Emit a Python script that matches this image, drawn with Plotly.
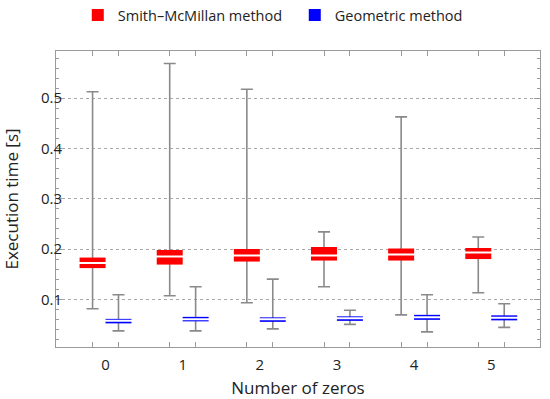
import plotly.graph_objects as go

# ---- data ----
zeros = [0, 1, 2, 3, 4, 5]
tick_labels = ["0", "1", "2", "3", "4", "5"]

sm_min = [0.081, 0.107, 0.093, 0.125, 0.069, 0.113]
sm_q1 = [0.162, 0.169, 0.175, 0.177, 0.177, 0.180]
sm_med = [0.172, 0.185, 0.187, 0.187, 0.189, 0.193]
sm_q3 = [0.183, 0.198, 0.200, 0.204, 0.201, 0.202]
sm_max = [0.513, 0.569, 0.518, 0.234, 0.463, 0.224]

geo_min = [0.037, 0.037, 0.041, 0.050, 0.035, 0.044]
geo_q1 = [0.052, 0.056, 0.055, 0.057, 0.059, 0.058]
geo_med = [0.057, 0.060, 0.060, 0.062, 0.064, 0.063]
geo_q3 = [0.061, 0.065, 0.064, 0.066, 0.069, 0.068]
geo_max = [0.109, 0.125, 0.140, 0.078, 0.109, 0.091]

# ---- styling ----
OFFSET = 0.168
BOXW = 0.337
WHISKER = "#8a8a8a"
FRAME = "#9a9a9a"
FONT = "Open Sans"
YR = [0.005, 0.594]
XR = [-0.642, 5.632]

series = [
    ("Smith\u2013McMillan method", "#ff0000", -OFFSET, sm_min, sm_q1, sm_med, sm_q3, sm_max),
    ("Geometric method", "#0000ff", OFFSET, geo_min, geo_q1, geo_med, geo_q3, geo_max),
]

fig = go.Figure()
box_positions = []
for name, color, off, mn, q1, med, q3, mx in series:
    xs = [z + off for z in zeros]
    box_positions += xs
    # whiskers (min..max with caps), on the base axis -> drawn beneath boxes
    fig.add_trace(go.Scatter(
        x=xs, y=med, mode="markers", marker=dict(size=1, opacity=0),
        error_y=dict(type="data", symmetric=False,
                     array=[b - a for a, b in zip(med, mx)],
                     arrayminus=[a - b for a, b in zip(med, mn)],
                     color=WHISKER, thickness=1.6, width=6),
        showlegend=False, hoverinfo="skip", yaxis="y"))
    # boxes Q1..Q3 on overlay axis
    fig.add_trace(go.Bar(
        x=xs, y=[b - a for a, b in zip(q1, q3)], base=q1, width=BOXW,
        marker=dict(color=color, line=dict(width=0)), name=name,
        yaxis="y2", showlegend=True))
    # median lines
    fig.add_trace(go.Scatter(
        x=xs, y=med, mode="markers",
        marker=dict(symbol="line-ew", size=25, line=dict(color="white", width=2)),
        showlegend=False, hoverinfo="skip", yaxis="y2"))

fig.update_layout(
    width=550, height=399,
    margin=dict(l=56, r=10, t=50.5, b=51.7, autoexpand=False),
    plot_bgcolor="white", paper_bgcolor="white",
    barmode="overlay",
    font=dict(family=FONT, size=14.5, color="#222222"),
    legend=dict(orientation="h", x=0.045, xanchor="left", y=0.962, yref="container",
                yanchor="middle", font=dict(size=14.5), itemsizing="constant",
                traceorder="normal", entrywidth=172, itemwidth=30),
    xaxis=dict(range=XR, tickmode="array", tickvals=zeros, ticktext=tick_labels,
               ticks="", showgrid=False, zeroline=False, automargin=False,
               showline=True, linecolor=FRAME, linewidth=1, mirror="ticks",
               tickfont=dict(size=15), ticklabelstandoff=4,
               minor=dict(tickmode="array", tickvals=box_positions, ticks="inside",
                          ticklen=5, tickcolor=FRAME, showgrid=False),
               title=dict(text="Number of zeros", standoff=10)),
    yaxis=dict(range=YR, tickmode="array", tickvals=[0.1, 0.2, 0.3, 0.4, 0.5],
               ticktext=["0.1", "0.2", "0.3", "0.4", "0.5"],
               ticks="inside", ticklen=6, tickcolor=FRAME, automargin=False,
               ticklabelstandoff=-10, tickfont=dict(size=15),
               showgrid=True, gridcolor="#a8a8a8", griddash="dot", gridwidth=1,
               zeroline=False, showline=True, linecolor=FRAME, linewidth=1, mirror="ticks",
               minor=dict(dtick=0.02, tick0=0, ticks="inside", ticklen=3,
                          tickcolor=FRAME, showgrid=False),
               title=dict(text="Execution time [s]", standoff=20)),
    yaxis2=dict(range=YR, overlaying="y", visible=False, showgrid=False),
)

fig.write_html("out.html", config={"displayModeBar": False},
               post_script="document.body.style.margin='0';")
